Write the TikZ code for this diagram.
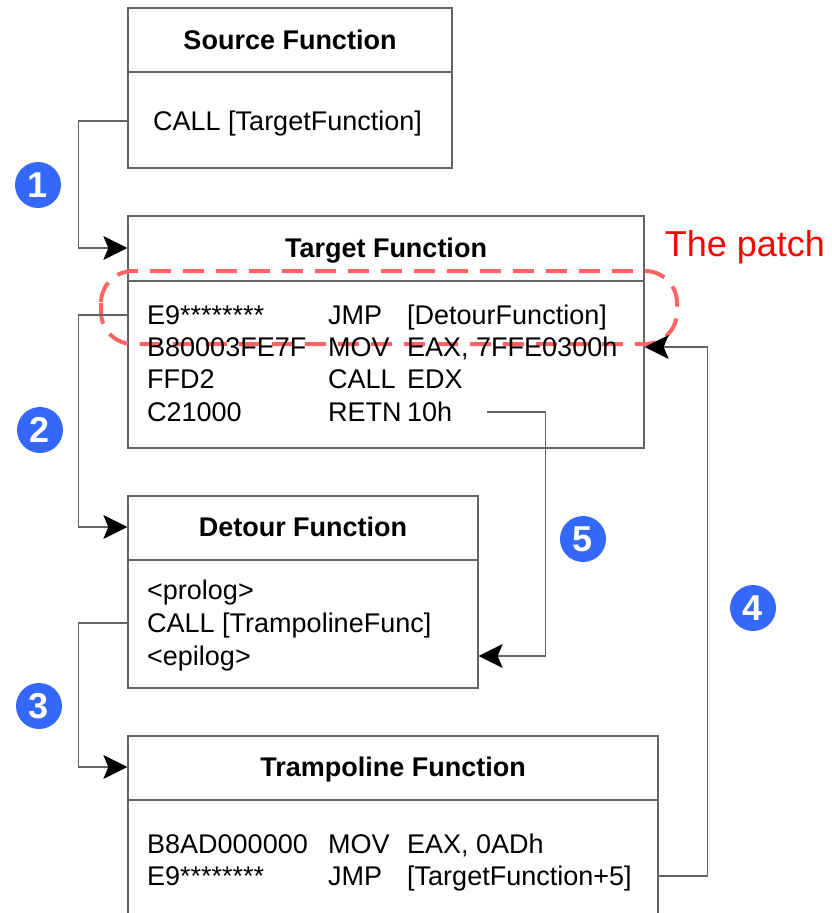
\documentclass[tikz,border=0pt]{standalone}
\usepackage{fontspec}
\setmainfont{Liberation Sans}
\usetikzlibrary{arrows.meta}
\definecolor{boxline}{RGB}{100,100,100}
\definecolor{badge}{RGB}{52,104,250}
\definecolor{patchred}{RGB}{255,100,100}
\begin{document}
\begin{tikzpicture}[x=1pt,y=-1pt,
  fbox/.style={draw=boxline,line width=1.3pt,minimum width=#1,inner sep=0pt},
  title/.style={font=\fontsize{27}{32}\selectfont\bfseries,inner sep=0pt,
    text height=19.5pt,text depth=0pt},
  code/.style={font=\fontsize{27}{32}\selectfont,inner sep=0pt,anchor=west,
    text height=19.5pt,text depth=0pt},
  conn/.style={draw=boxline,line width=1.3pt,
    -{Stealth[length=24pt,width=24pt,inset=5pt,color=black]}},
  num/.style={circle,fill=badge,minimum size=46pt,inner sep=0pt,text=white,
    font=\fontsize{36}{36}\selectfont\bfseries},
]
\useasboundingbox (0,0) rectangle (832,913);
\clip (0,0) rectangle (832,913);

% function boxes
\node[fbox=324pt,minimum height=160pt] (src) at (290,88) {};
\node[fbox=516pt,minimum height=232pt] (tgt) at (386,332) {};
\node[fbox=350pt,minimum height=192pt] (det) at (303,592) {};
\node[fbox=530pt,minimum height=210pt] (tra) at (393,841) {};

% header dividers
\draw[boxline,line width=1.3pt] (src.west |- 0,72) -- (src.east |- 0,72);
\draw[boxline,line width=1.3pt] (tgt.west |- 0,281) -- (tgt.east |- 0,281);
\draw[boxline,line width=1.3pt] (det.west |- 0,560) -- (det.east |- 0,560);
\draw[boxline,line width=1.3pt] (tra.west |- 0,800) -- (tra.east |- 0,800);

% patched bytes, under the listing text
\draw[patchred,line width=4pt,dash pattern=on 21pt off 12pt,rounded corners=32pt]
  (101,271) rectangle (677,344);
\node[text=red,font=\fontsize{36}{40}\selectfont,inner sep=0pt] (patch) at (745,247) {The patch};

% titles
\node[title] (srct) at (290,40) {Source Function};
\node[title] (tgtt) at (386,248) {Target Function};
\node[title] (dett) at (303,527) {Detour Function};
\node[title] (trat) at (393,767) {Trampoline Function};

% source body
\node[code] (scall) at (153,121) {CALL [TargetFunction]};

% target body
\node[code] (t1a) at (147,315) {E9********};
\node[code] (t1b) at (328,315) {JMP};
\node[code] (t1c) at (407,315) {[DetourFunction]};
\node[code] (t2a) at (147,347) {B80003FE7F};
\node[code] (t2b) at (328,347) {MOV};
\node[code] (t2c) at (407,347) {EAX, 7FFE0300h};
\node[code] (t3a) at (147,379) {FFD2};
\node[code] (t3b) at (328,379) {CALL};
\node[code] (t3c) at (407,379) {EDX};
\node[code] (t4a) at (147,412) {C21000};
\node[code] (t4b) at (328,412) {RETN};
\node[code] (t4c) at (407,412) {10h};

% detour body
\node[code] (d1) at (147,590) {<prolog>};
\node[code] (d2) at (147,623) {CALL [TrampolineFunc]};
\node[code] (d3) at (147,656) {<epilog>};

% trampoline body
\node[code] (r1a) at (147,844) {B8AD000000};
\node[code] (r1b) at (328,844) {MOV};
\node[code] (r1c) at (407,844) {EAX, 0ADh};
\node[code] (r2a) at (147,876) {E9********};
\node[code] (r2b) at (328,876) {JMP};
\node[code] (r2c) at (407,876) {[TargetFunction+5]};

% control flow
\draw[conn] (scall -| src.west) -- ++(-49,0) |- (tgtt -| tgt.west);
\draw[conn] (t1a -| tgt.west) -- ++(-49,0) |- (dett -| det.west);
\draw[conn] (d2 -| det.west) -- ++(-49,0) |- (trat -| tra.west);
\draw[conn] (r2c -| tra.east) -- ++(49,0) |- (t2c -| tgt.east);
\draw[conn] ([xshift=35pt]t4c.east) -- ++(58,0) |- (d3 -| det.east);

% step badges
\node[num] (n1) at (38,185) {1};
\node[num] (n2) at (40,430) {2};
\node[num] (n3) at (39,706) {3};
\node[num] (n4) at (753,608) {4};
\node[num] (n5) at (583,539) {5};
\end{tikzpicture}
\end{document}
